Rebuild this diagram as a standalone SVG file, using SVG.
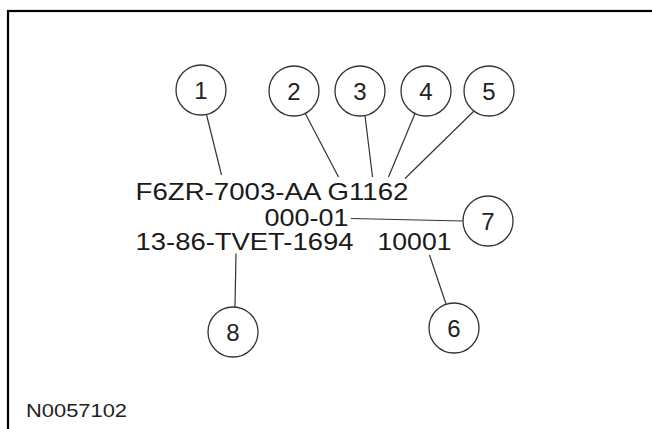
<svg xmlns="http://www.w3.org/2000/svg" width="652" height="429" viewBox="0 0 652 429">
<style>
.c{fill:#fff;stroke:#333;stroke-width:1.3}
.n{font-family:"Liberation Sans",Arial,sans-serif;font-size:24px;fill:#222;text-anchor:middle}
.t{font-family:"Liberation Sans",Arial,sans-serif;font-size:24px;fill:#1a1a1a}
.l{stroke:#333;stroke-width:1.2;fill:none}
</style>
<rect x="0" y="0" width="652" height="429" fill="#fff"/>
<rect x="8" y="11" width="660" height="430" fill="none" stroke="#000" stroke-width="2.2"/>
<g id="connectors">
<line class="l" x1="206.5" y1="114.5" x2="221.5" y2="175"/>
<line class="l" x1="305" y1="113" x2="338.5" y2="177"/>
<line class="l" x1="365" y1="115.5" x2="372.5" y2="177"/>
<line class="l" x1="415" y1="113.5" x2="388.5" y2="177"/>
<line class="l" x1="474" y1="111" x2="405" y2="178.5"/>
<line class="l" x1="351" y1="218.5" x2="463" y2="221"/>
<line class="l" x1="236" y1="253.5" x2="235" y2="307"/>
<line class="l" x1="429.5" y1="255" x2="446" y2="304"/>
</g>
<g id="labels">
<text class="t" x="135.5" y="200" textLength="273" lengthAdjust="spacingAndGlyphs">F6ZR-7003-AA G1162</text>
<text class="t" x="264.5" y="225.5" textLength="84" lengthAdjust="spacingAndGlyphs">000-01</text>
<text class="t" x="135.5" y="250" textLength="218" lengthAdjust="spacingAndGlyphs">13-86-TVET-1694</text>
<text class="t" x="377.5" y="250" textLength="74" lengthAdjust="spacingAndGlyphs">10001</text>
</g>
<g id="node1"><circle class="c" cx="201" cy="90" r="25"/><text class="n" x="201" y="98.5">1</text></g>
<g id="node2"><circle class="c" cx="294" cy="91" r="25"/><text class="n" x="294" y="99.5">2</text></g>
<g id="node3"><circle class="c" cx="360" cy="91" r="25"/><text class="n" x="360" y="99.5">3</text></g>
<g id="node4"><circle class="c" cx="426" cy="91" r="25"/><text class="n" x="426" y="99.5">4</text></g>
<g id="node5"><circle class="c" cx="489" cy="91" r="25"/><text class="n" x="489" y="99.5">5</text></g>
<g id="node7"><circle class="c" cx="488" cy="221" r="25"/><text class="n" x="488" y="229.5">7</text></g>
<g id="node8"><circle class="c" cx="233" cy="332" r="25"/><text class="n" x="233" y="340.5">8</text></g>
<g id="node6"><circle class="c" cx="454" cy="328" r="25"/><text class="n" x="454" y="336.5">6</text></g>
<text id="figid" x="26" y="417" font-family="Liberation Sans, Arial, sans-serif" font-size="19" fill="#222" textLength="101" lengthAdjust="spacingAndGlyphs">N0057102</text>
</svg>
